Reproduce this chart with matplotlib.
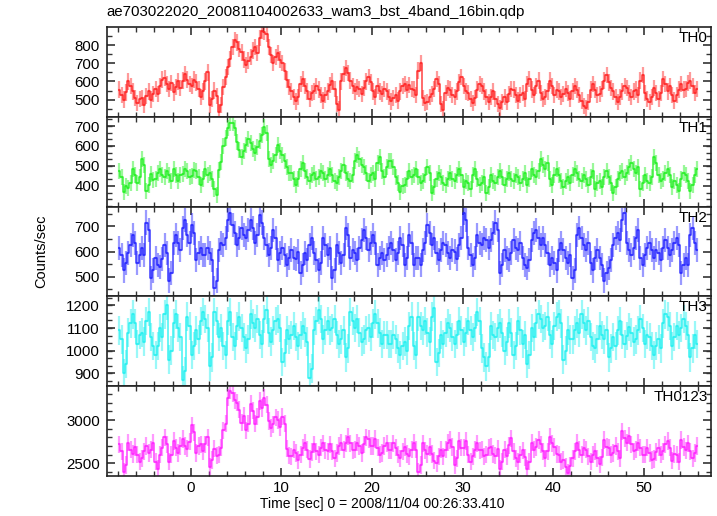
import numpy as np
import matplotlib.pyplot as plt
from matplotlib.ticker import MultipleLocator, FixedLocator

plt.rcParams['font.family'] = ['Liberation Sans', 'DejaVu Sans']

title = 'ae703022020_20081104002633_wam3_bst_4band_16bin.qdp'
xlabel = 'Time [sec] 0 = 2008/11/04 00:26:33.410'
ylabel = 'Counts/sec'

# 0.25 s bins starting at -8 s
t0 = -8.0
binw = 0.25
nbin = 256
t = t0 + binw * (np.arange(nbin) + 0.5)

th0 = [555, 525, 500, 540, 600, 575, 545, 510, 480, 505, 510, 470, 520, 545, 500, 530,
       560, 530, 575, 610, 620, 585, 560, 590, 540, 570, 600, 565, 605, 640, 610, 585,
       575, 610, 595, 560, 515, 545, 600, 650, 470, 505, 550, 520, 430, 470, 570, 625,
       680, 725, 790, 830, 815, 780, 760, 720, 690, 715, 735, 770, 790, 755, 840, 880,
       875, 860, 790, 745, 700, 735, 755, 720, 700, 655, 610, 570, 545, 515, 490, 515,
       585, 615, 575, 545, 505, 535, 545, 575, 555, 525, 495, 525, 545, 580, 600, 560,
       475, 445, 600, 640, 675, 645, 605, 575, 545, 570, 560, 530, 565, 600, 625, 595,
       545, 515, 575, 545, 530, 560, 545, 515, 490, 510, 525, 495, 545, 575, 585, 555,
       580, 560, 555, 525, 660, 700, 510, 480, 485, 515, 530, 560, 615, 585, 475, 445,
       535, 565, 555, 525, 515, 545, 595, 625, 575, 545, 535, 505, 480, 510, 555, 585,
       575, 545, 515, 485, 515, 545, 505, 475, 455, 485, 515, 485, 530, 560, 555, 525,
       495, 525, 535, 505, 585, 615, 555, 525, 575, 605, 535, 505, 515, 545, 605, 575,
       525, 555, 545, 515, 530, 560, 535, 505, 545, 575, 555, 525, 495, 465, 455, 485,
       555, 585, 555, 525, 530, 560, 605, 635, 595, 565, 545, 515, 485, 515, 545, 575,
       565, 535, 515, 545, 555, 525, 605, 635, 535, 505, 485, 515, 565, 535, 505, 535,
       615, 585, 545, 575, 525, 495, 525, 555, 585, 555, 560, 590, 605, 575, 535, 560]

th1 = [475, 445, 370, 400, 390, 415, 485, 455, 415, 445, 535, 505, 375, 405, 460, 430,
       435, 465, 485, 455, 445, 475, 455, 425, 485, 455, 425, 455, 460, 485, 475, 445,
       450, 480, 475, 445, 405, 435, 485, 455, 465, 435, 385, 355, 480, 520, 600, 640,
       690, 715, 715, 690, 620, 580, 545, 575, 605, 635, 615, 585, 565, 595, 625, 655,
       695, 665, 535, 505, 525, 555, 605, 575, 555, 525, 495, 465, 465, 435, 405, 435,
       485, 515, 475, 445, 425, 455, 465, 435, 445, 475, 465, 435, 455, 485, 455, 425,
       415, 445, 475, 505, 465, 435, 425, 455, 525, 555, 535, 505, 495, 465, 425, 455,
       465, 435, 515, 545, 475, 445, 495, 525, 525, 495, 445, 415, 370, 400, 405, 435,
       475, 445, 455, 485, 445, 415, 425, 455, 495, 465, 365, 395, 435, 465, 445, 415,
       405, 435, 465, 435, 425, 455, 485, 455, 395, 425, 415, 385, 455, 485, 435, 405,
       415, 445, 365, 395, 455, 425, 415, 445, 475, 445, 405, 435, 465, 435, 425, 455,
       445, 415, 435, 465, 405, 435, 485, 455, 445, 475, 535, 505, 485, 515, 435, 405,
       455, 485, 455, 425, 395, 425, 445, 415, 455, 485, 465, 435, 425, 455, 435, 405,
       445, 475, 385, 415, 425, 395, 445, 475, 445, 415, 365, 395, 435, 465, 475, 445,
       465, 495, 515, 485, 465, 495, 385, 415, 455, 425, 415, 445, 545, 515, 455, 425,
       435, 465, 485, 455, 395, 425, 405, 375, 435, 465, 455, 425, 375, 405, 455, 485]

th2 = [615, 585, 525, 555, 595, 625, 665, 635, 555, 585, 615, 585, 715, 685, 495, 525,
       575, 545, 540, 570, 625, 595, 485, 515, 635, 665, 635, 605, 695, 725, 665, 635,
       705, 675, 565, 595, 615, 585, 585, 615, 595, 565, 455, 485, 605, 635, 625, 655,
       725, 755, 705, 675, 625, 655, 695, 665, 655, 685, 725, 695, 635, 665, 745, 715,
       655, 625, 585, 615, 685, 655, 565, 595, 615, 585, 545, 575, 605, 575, 570, 600,
       515, 545, 595, 565, 625, 655, 595, 565, 525, 555, 655, 625, 585, 615, 495, 525,
       625, 595, 555, 585, 695, 665, 575, 605, 595, 565, 615, 645, 685, 655, 605, 635,
       665, 635, 545, 575, 595, 565, 585, 615, 635, 605, 565, 595, 655, 625, 545, 575,
       665, 635, 545, 575, 575, 545, 605, 635, 705, 675, 625, 655, 595, 565, 605, 635,
       625, 595, 575, 605, 600, 570, 625, 655, 755, 725, 615, 585, 545, 575, 665, 635,
       625, 655, 645, 615, 645, 675, 715, 685, 515, 545, 605, 575, 565, 595, 645, 615,
       605, 635, 575, 545, 535, 565, 645, 675, 685, 655, 625, 655, 625, 595, 545, 575,
       555, 525, 605, 635, 605, 575, 555, 585, 495, 525, 665, 695, 655, 625, 605, 635,
       555, 525, 575, 605, 575, 545, 485, 515, 535, 565, 625, 655, 675, 645, 725, 755,
       635, 605, 585, 615, 655, 685, 575, 545, 585, 615, 635, 605, 575, 605, 595, 565,
       615, 645, 615, 585, 605, 635, 655, 625, 515, 545, 575, 545, 665, 695, 635, 605]

th3 = [1090, 1050, 900, 940, 1080, 1120, 1160, 1120, 1030, 1070, 1080, 1040, 1130, 1170, 1060, 1020,
       980, 1020, 1100, 1060, 1160, 1200, 960, 1000, 1120, 1160, 1100, 1060, 870, 910, 1150, 1110,
       980, 1020, 1090, 1050, 1130, 1170, 1140, 1100, 930, 970, 1170, 1130, 1060, 1100, 1020, 980,
       1130, 1170, 1060, 1020, 1110, 1150, 1100, 1060, 1010, 1050, 1160, 1120, 1100, 1140, 1070, 1030,
       1140, 1180, 1080, 1040, 1090, 1130, 1140, 1100, 950, 990, 1090, 1050, 1070, 1110, 1060, 1020,
       1070, 1110, 1080, 1040, 880, 920, 1090, 1130, 1180, 1140, 1050, 1090, 1130, 1090, 1100, 1140,
       1070, 1030, 1050, 1090, 970, 1010, 1170, 1130, 1100, 1140, 1080, 1040, 1050, 1090, 1100, 1060,
       1120, 1160, 1120, 1080, 1030, 1070, 1070, 1030, 1030, 1070, 1050, 1010, 980, 1020, 1040, 1000,
       1110, 1150, 1020, 980, 1150, 1110, 1090, 1130, 1080, 1040, 1150, 1190, 950, 990, 1070, 1030,
       1080, 1120, 1100, 1060, 1030, 1070, 1130, 1090, 1040, 1080, 1130, 1090, 1060, 1100, 1170, 1130,
       1010, 970, 930, 970, 1110, 1070, 1060, 1100, 1120, 1080, 1000, 1040, 1120, 1080, 980, 1020,
       1130, 1090, 1030, 1070, 940, 980, 1100, 1060, 1120, 1160, 1140, 1100, 1110, 1150, 1070, 1030,
       1110, 1150, 1160, 1120, 960, 1000, 1090, 1050, 1050, 1090, 1120, 1080, 1160, 1120, 1090, 1130,
       1060, 1020, 1010, 1050, 1110, 1070, 1050, 1090, 970, 1010, 1060, 1020, 1090, 1130, 1070, 1030,
       1065, 1105, 1080, 1040, 1050, 1090, 1140, 1100, 1030, 1070, 1060, 1020, 980, 1020, 1050, 1010,
       1120, 1160, 1150, 1110, 1020, 1060, 1110, 1070, 1100, 1140, 1110, 1070, 970, 1010, 1070, 1030]

th0123 = [2720, 2640, 2400, 2480, 2740, 2660, 2610, 2690, 2600, 2520, 2560, 2640, 2700, 2620, 2660, 2740,
          2520, 2440, 2600, 2680, 2800, 2720, 2520, 2600, 2760, 2680, 2620, 2700, 2780, 2700, 2670, 2750,
          2940, 2860, 2620, 2700, 2720, 2640, 2720, 2800, 2460, 2540, 2670, 2590, 2600, 2680, 2880, 2960,
          3260, 3340, 3310, 3230, 3200, 3120, 2970, 3050, 2880, 2960, 3190, 3110, 2960, 3040, 3220, 3140,
          3260, 3180, 2990, 2910, 2950, 3030, 3000, 2920, 3040, 2960, 2670, 2590, 2580, 2660, 2620, 2540,
          2600, 2680, 2740, 2660, 2550, 2630, 2720, 2640, 2600, 2680, 2730, 2650, 2640, 2720, 2640, 2560,
          2620, 2700, 2740, 2660, 2730, 2810, 2730, 2650, 2660, 2740, 2700, 2620, 2720, 2800, 2780, 2700,
          2700, 2780, 2680, 2600, 2620, 2700, 2730, 2650, 2650, 2730, 2680, 2600, 2560, 2640, 2690, 2610,
          2580, 2660, 2740, 2660, 2400, 2480, 2730, 2650, 2610, 2690, 2610, 2530, 2500, 2580, 2660, 2580,
          2660, 2740, 2770, 2690, 2480, 2560, 2760, 2680, 2680, 2760, 2600, 2520, 2580, 2660, 2730, 2650,
          2660, 2580, 2600, 2680, 2690, 2610, 2590, 2670, 2440, 2520, 2660, 2580, 2710, 2790, 2640, 2560,
          2520, 2600, 2650, 2570, 2440, 2520, 2740, 2660, 2690, 2770, 2720, 2640, 2560, 2640, 2810, 2730,
          2690, 2610, 2600, 2520, 2540, 2460, 2390, 2470, 2560, 2640, 2740, 2660, 2600, 2680, 2660, 2580,
          2520, 2600, 2640, 2560, 2490, 2570, 2770, 2690, 2680, 2600, 2620, 2700, 2640, 2560, 2870, 2790,
          2740, 2820, 2720, 2640, 2660, 2740, 2680, 2600, 2600, 2680, 2620, 2540, 2550, 2630, 2680, 2600,
          2640, 2720, 2760, 2680, 2530, 2610, 2600, 2520, 2770, 2690, 2650, 2730, 2640, 2560, 2620, 2700]

series = [th0, th1, th2, th3, th0123]
names = ['TH0', 'TH1', 'TH2', 'TH3', 'TH0123']
errors = [45, 42, 48, 63, 100]
colors = ['#ff2020', '#20f020', '#2020ff', '#20f0f0', '#ff20ff']
ylims = [(404, 898), (296, 745), (422, 778), (843, 1240), (2357, 3393)]
yticks = [[500, 600, 700, 800], [400, 500, 600, 700], [500, 600, 700],
          [900, 1000, 1100, 1200], [2500, 3000]]
yminor = [50, 33.333, 50, 33.333, 100]

fig, axes = plt.subplots(5, 1, sharex=True, figsize=(7.17, 5.16), dpi=100)
fig.subplots_adjust(left=0.1488, right=0.9916, top=0.947, bottom=0.078, hspace=0)

for k, ax in enumerate(axes):
    y = np.array(series[k])
    ax.errorbar(t, y, xerr=binw / 2, yerr=errors[k], fmt='none',
                ecolor=colors[k], elinewidth=1.6, alpha=0.45)
    ax.step(t, y, where='mid', color=colors[k], lw=1.1, alpha=0.85)
    ax.set_ylim(*ylims[k])
    ax.yaxis.set_major_locator(FixedLocator(yticks[k]))
    ax.yaxis.set_minor_locator(MultipleLocator(yminor[k]))
    ax.xaxis.set_major_locator(MultipleLocator(10))
    ax.xaxis.set_minor_locator(MultipleLocator(2))
    ax.tick_params(which='both', direction='in', top=True, right=True,
                   labelsize=10.8, pad=5, color='#333333')
    ax.tick_params(axis='x', pad=4)
    ax.tick_params(which='major', length=6, width=1.2)
    ax.tick_params(which='minor', length=3.5, width=1.0)
    for s in ax.spines.values():
        s.set_linewidth(1.2)
        s.set_color('#222222')
    ax.text(0.995, 0.955, names[k], transform=ax.transAxes, ha='right', va='top',
            fontsize=11)

axes[-1].set_xlim(-9.26, 57.4)
fig.text(0.149, 0.977, title, ha='left', va='center', fontsize=10.8)
fig.text(0.533, 0.024, xlabel, ha='center', va='center', fontsize=10)
fig.text(0.058, 0.513, ylabel, ha='center', va='center', rotation=90, fontsize=10.5)

fig.savefig('out.png', dpi=100)
